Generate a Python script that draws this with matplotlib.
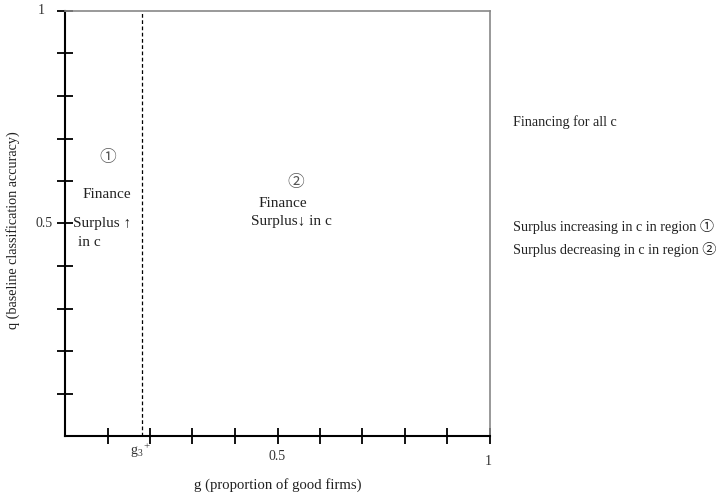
import numpy as np
import matplotlib
matplotlib.use("Agg")
import matplotlib.pyplot as plt

plt.rcParams["font.family"] = ["Liberation Serif", "Noto Sans CJK JP", "DejaVu Sans"]

# data
tick_pos = [0.1, 0.2, 0.3, 0.4, 0.5, 0.6, 0.7, 0.8, 0.9, 1.0]
g3_plus = 0.18
region_labels = ["\u2460", "\u2461"]
legend_lines = [
    "Financing for all c",
    "Surplus increasing in c in region \u2460",
    "Surplus decreasing in c in region \u2461",
]

fig = plt.figure(figsize=(7.26, 4.98), dpi=100)
ax = fig.add_axes([65 / 726, 62 / 498, 425 / 726, 425 / 498])
ax.set_xlim(0, 1)
ax.set_ylim(0, 1)

for s in ("left", "bottom"):
    ax.spines[s].set_color("black")
    ax.spines[s].set_linewidth(1.5)
for s in ("top", "right"):
    ax.spines[s].set_color("#888888")
    ax.spines[s].set_linewidth(1.2)

ax.set_xticks(tick_pos)
ax.set_yticks(tick_pos)
ax.set_xticklabels([])
ax.set_yticklabels([])
ax.tick_params(direction="inout", length=12, width=1.3, color="black")

# axis value labels
fs = 10
lc = "#333333"
ax.text(0.5, -0.048, "0.5", ha="center", va="center", fontsize=fs, color=lc)
ax.text(0.995, -0.06, "1", ha="center", va="center", fontsize=fs, color=lc)
ax.text(g3_plus - 0.012, -0.036, "$\\mathregular{g_3}$", ha="center", va="center",
        fontsize=fs, color=lc)
ax.text(g3_plus + 0.011, -0.025, "+", ha="center", va="center", fontsize=8, color=lc)
ax.text(-0.05, 0.5, "0.5", ha="center", va="center", fontsize=fs, color=lc)
ax.text(-0.055, 1.0, "1", ha="center", va="center", fontsize=fs, color=lc)

ax.axvline(g3_plus, color="black", linestyle=(0, (3, 2)), linewidth=0.9)

# region annotations
tc = "#222222"
ax.text(0.101, 0.654, region_labels[0], ha="center", va="center", fontsize=12, color="#555555")
ax.text(0.099, 0.569, "Finance", ha="center", va="center", fontsize=11, color=tc)
ax.text(0.018, 0.499, "Surplus \u2191", ha="left", va="center", fontsize=11, color=tc)
ax.text(0.03, 0.456, "in c", ha="left", va="center", fontsize=11, color=tc)

ax.text(0.544, 0.595, region_labels[1], ha="center", va="center", fontsize=12, color="#555555")
ax.text(0.513, 0.546, "Finance", ha="center", va="center", fontsize=11, color=tc)
ax.text(0.532, 0.504, "Surplus\u2193 in c", ha="center", va="center", fontsize=11, color=tc)

# right-side notes
for line, yy in zip(legend_lines, [0.739, 0.494, 0.438]):
    ax.text(1.054, yy, line, ha="left", va="center", fontsize=10.2, color=tc,
            clip_on=False)

ax.text(0.5, -0.115, "g (proportion of good firms)", ha="center", va="center",
        fontsize=10.6, color=tc)
ax.text(-0.122, 0.485, "q (baseline classification accuracy)", ha="center", va="center",
        rotation=90, fontsize=10.2, color=tc)

fig.savefig("out.png", dpi=100)
